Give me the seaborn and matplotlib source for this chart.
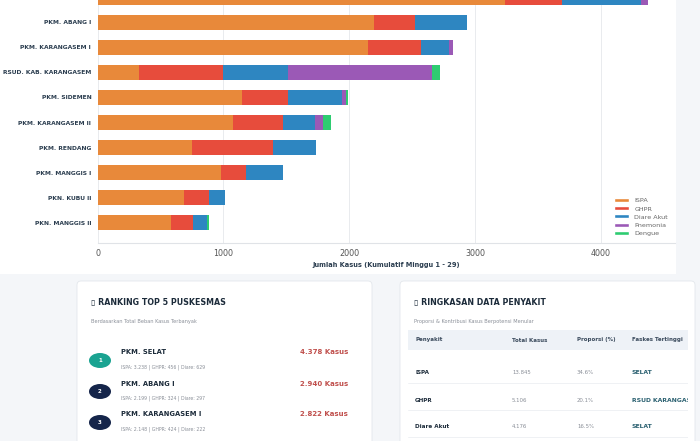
import numpy as np
import pandas as pd
import seaborn as sns
import matplotlib.pyplot as plt
from matplotlib.patches import FancyBboxPatch, Rectangle, Ellipse, Patch

# data
faskes = ["PKM. SELAT", "PKM. ABANG I", "PKM. KARANGASEM I", "RSUD. KAB. KARANGASEM",
          "PKM. SIDEMEN", "PKM. KARANGASEM II", "PKM. RENDANG", "PKM. MANGGIS I",
          "PKN. KUBU II", "PKN. MANGGIS II"]
ispa = [3238, 2199, 2148, 326, 1149, 1080, 754, 982, 688, 582]
ghpr = [456, 324, 424, 674, 365, 397, 639, 198, 201, 180]
diare = [629, 417, 222, 514, 432, 250, 344, 292, 127, 106]
pnemonia = [55, 0, 28, 1147, 27, 63, 0, 0, 0, 0]
dengue = [0, 0, 0, 59, 16, 66, 0, 6, 0, 16]

layers = ["ISPA", "GHPR", "Diare Akut", "Pnemonia", "Dengue"]
colors = {"ISPA": "#e8893a", "GHPR": "#e74c3c", "Diare Akut": "#2e86c1",
          "Pnemonia": "#9b59b6", "Dengue": "#2ecc71"}

rank_names = ["PKM. SELAT", "PKM. ABANG I", "PKM. KARANGASEM I"]
rank_totals = ["4.378 Kasus", "2.940 Kasus", "2.822 Kasus"]
rank_detail = ["ISPA: 3.238 | GHPR: 456 | Diare: 629",
               "ISPA: 2.199 | GHPR: 324 | Diare: 297",
               "ISPA: 2.148 | GHPR: 424 | Diare: 222"]

tbl_cols = ["Penyakit", "Total Kasus", "Proporsi (%)", "Faskes Tertinggi"]
tbl_penyakit = ["ISPA", "GHPR", "Diare Akut"]
tbl_total = ["13.845", "5.106", "4.176"]
tbl_prop = ["34.6%", "20.1%", "16.5%"]
tbl_faskes = ["SELAT", "RSUD KARANGASEM", "SELAT"]

sns.set_style("white")
plt.rcParams["font.family"] = ["DejaVu Sans"]

W, H = 700, 441
fig = plt.figure(figsize=(7, 4.41), dpi=100)
fig.patch.set_facecolor("#f4f6f9")

# background layer in pixel coordinates
bg = fig.add_axes([0, 0, 1, 1], zorder=0)
bg.set_xlim(0, W)
bg.set_ylim(H, 0)
bg.axis("off")
bg.add_patch(Rectangle((-5, -10), 681, 284, facecolor="white", edgecolor="none"))
for x0 in (77, 400):
    bg.add_patch(FancyBboxPatch((x0, 281), 295, 175, boxstyle="round,pad=0,rounding_size=4",
                                facecolor="white", edgecolor="#e3e7ec", lw=0.6))

# stacked horizontal bars
df = pd.DataFrame({"Faskes": faskes, "ISPA": ispa, "GHPR": ghpr, "Diare Akut": diare,
                   "Pnemonia": pnemonia, "Dengue": dengue})
cum = df[layers].cumsum(axis=1)

ax = fig.add_axes([97.5 / W, 1 - 243 / H, (675 - 97.5) / W, 258.5 / H], zorder=2)
ax.patch.set_alpha(0)
for layer in reversed(layers):
    sns.barplot(x=cum[layer], y=df["Faskes"], color=colors[layer], orient="h",
                width=0.6, saturation=1, linewidth=0, ax=ax)
ax.set_xlim(0, 4590)
ax.set_ylim(9.8, -0.5)
ax.set_xticks([0, 1000, 2000, 3000, 4000])
ax.grid(axis="x", color="#e9ebee", lw=0.7)
ax.set_axisbelow(True)
for s in ("top", "right", "left"):
    ax.spines[s].set_visible(False)
ax.spines["bottom"].set_color("#e0e3e7")
ax.tick_params(axis="y", length=2.5, color="#c8ccd2", labelsize=4.3, pad=2)
ax.tick_params(axis="x", length=2.5, color="#c8ccd2", labelsize=5.8, labelcolor="#555555", pad=1.5)
for t in ax.get_yticklabels():
    t.set_fontweight("bold")
    t.set_color("#2c3e50")
ax.set_ylabel("")
ax.set_xlabel("Jumlah Kasus (Kumulatif Minggu 1 - 29)", fontsize=4.8, fontweight="bold",
              color="#2c3e50", labelpad=3)
handles = [Patch(facecolor=colors[l], label=l) for l in layers]
ax.legend(handles=handles, loc="lower right", bbox_to_anchor=(1.0, 0.0), fontsize=4.6,
          frameon=True, facecolor="white", edgecolor="none", handlelength=2.4,
          handleheight=0.6, labelspacing=0.45, labelcolor="#666666", borderpad=0.9,
          borderaxespad=0.2)

# ranking card
bg.text(91, 303, "▯ RANKING TOP 5 PUSKESMAS", fontsize=5.7, fontweight="bold",
        color="#1c2b3a", va="center")
bg.text(91, 321, "Berdasarkan Total Beban Kasus Terbanyak", fontsize=3.6,
        color="#8a8f98", va="center")
circle_colors = ["#1aa391", "#15254a", "#15254a"]
for i, name in enumerate(rank_names):
    yc = 360.5 + i * 31
    bg.add_patch(Ellipse((100, yc), 22, 15, facecolor=circle_colors[i], edgecolor="none"))
    bg.text(100, yc, str(i + 1), fontsize=4, fontweight="bold", color="white",
            ha="center", va="center")
    bg.text(121, yc - 8, name, fontsize=4.9, fontweight="bold", color="#1c2b3a", va="center")
    bg.text(121, yc + 7, rank_detail[i], fontsize=3.3, color="#8a8f98", va="center")
    bg.text(348, yc - 8, rank_totals[i], fontsize=5, fontweight="bold", color="#c0504d",
            ha="right", va="center")

# summary card
bg.text(414, 303, "▯ RINGKASAN DATA PENYAKIT", fontsize=5.7, fontweight="bold",
        color="#1c2b3a", va="center")
bg.text(414, 321, "Proporsi & Kontribusi Kasus Berpotensi Menular", fontsize=3.6,
        color="#8a8f98", va="center")
tb = fig.add_axes([400 / W, 0, 288 / W, 1 - 281 / H], zorder=3)
tb.set_xlim(400, 688)
tb.set_ylim(H, 281)
tb.axis("off")
tb.add_patch(Rectangle((408, 330), 300, 20, facecolor="#eef2f7", edgecolor="none"))
col_x = [415, 512, 577, 632]
for cx, c in zip(col_x, tbl_cols):
    tb.text(cx, 340, c, fontsize=4, fontweight="bold", color="#3a4a5c", va="center",
            clip_on=True)
for i in range(len(tbl_penyakit)):
    yr = 373 + i * 27
    tb.text(col_x[0], yr, tbl_penyakit[i], fontsize=4.1, fontweight="bold", color="#1c2b3a",
            va="center", clip_on=True)
    tb.text(col_x[1], yr, tbl_total[i], fontsize=3.9, color="#8a8f98", va="center", clip_on=True)
    tb.text(col_x[2], yr, tbl_prop[i], fontsize=3.9, color="#8a8f98", va="center", clip_on=True)
    tb.text(col_x[3], yr, tbl_faskes[i], fontsize=4.4, fontweight="bold", color="#2a6070",
            va="center", clip_on=True)
    tb.plot([408, 700], [yr + 9.5, yr + 9.5], color="#eceff3", lw=0.6)

fig.savefig("out.png", dpi=100, facecolor=fig.get_facecolor())
